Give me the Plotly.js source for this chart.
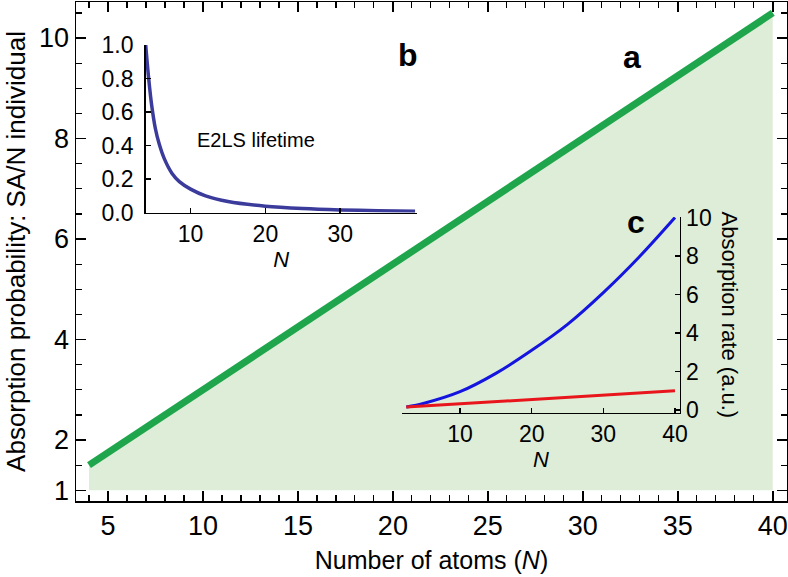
<!DOCTYPE html>
<html>
<head>
<meta charset="utf-8">
<script src="https://cdn.plot.ly/plotly-3.0.1.min.js"></script>
<style>
  html, body { margin: 0; padding: 0; background: #fff; }
  #chart { width: 788px; height: 577px; }
</style>
</head>
<body>
<div id="chart"></div>
<script>
// panel a: absorption probability per atom
const atomsN = [4, 40];
const probSA = [1.5, 10.5];
const fillBase = [1, 1];

// panel b: E2LS lifetime
const lifeN = [4, 4.4, 4.8, 5.3, 5.8, 6.5, 7.5, 8.5, 10, 12, 15, 20, 25, 30, 35, 40];
const lifeVal = [1.0, 0.8, 0.64, 0.5, 0.41, 0.32, 0.235, 0.185, 0.14, 0.1, 0.066, 0.038, 0.024, 0.016, 0.011, 0.008];

// panel c: absorption rate
const rateN = [2.5, 5, 10, 15, 20, 25, 30, 35, 40];
const rateCollective = [0.15, 0.35, 0.95, 1.9, 3.1, 4.45, 6.1, 7.95, 10.0];
const rateIndN = [2.5, 40];
const rateIndividual = [0.15, 1.0];

const FONT = 'Liberation Sans, Arial, Helvetica, sans-serif';
const GREEN = '#1fa64c';

const traces = [
  { x: atomsN, y: fillBase, mode: 'lines', line: { width: 0 }, hoverinfo: 'skip', showlegend: false },
  { x: atomsN, y: probSA, mode: 'lines', fill: 'tonexty', fillcolor: '#deedd7',
    line: { color: GREEN, width: 7 }, showlegend: false },
  { x: lifeN, y: lifeVal, xaxis: 'x2', yaxis: 'y2', mode: 'lines',
    line: { color: '#3b3b9c', width: 3.5, shape: 'spline', smoothing: 0.8 }, showlegend: false },
  { x: rateN, y: rateCollective, xaxis: 'x3', yaxis: 'y3', mode: 'lines',
    line: { color: '#1515e0', width: 3, shape: 'spline' }, showlegend: false },
  { x: rateIndN, y: rateIndividual, xaxis: 'x3', yaxis: 'y3', mode: 'lines',
    line: { color: '#e8161c', width: 3 }, showlegend: false }
];

const insetAxis = {
  showline: true, linecolor: '#000', linewidth: 1.5,
  ticks: 'inside', ticklen: 5, tickwidth: 1.5, tickcolor: '#000',
  showgrid: false, zeroline: false,
  tickfont: { size: 23, color: '#000' }
};

const layout = {
  width: 788, height: 577,
  margin: { l: 76, r: 1, t: 2, b: 76 },
  paper_bgcolor: '#fff', plot_bgcolor: 'rgba(0,0,0,0)',
  font: { family: FONT, color: '#000' },
  showlegend: false,
  xaxis: {
    range: [3.316, 40.75], tick0: 0, dtick: 5,
    showline: true, mirror: 'ticks', linecolor: '#000', linewidth: 1.5,
    ticks: 'inside', ticklen: 10, tickwidth: 1.5, tickcolor: '#000',
    minor: { ticks: 'inside', dtick: 1, ticklen: 6, tickwidth: 1.2, tickcolor: '#000' },
    showgrid: false, zeroline: false,
    tickfont: { size: 27 },
    title: { text: 'Number of atoms (<i>N</i>)', font: { size: 25 }, standoff: 11 }
  },
  yaxis: {
    range: [0.787, 10.717], tickvals: [1, 2, 4, 6, 8, 10],
    showline: true, mirror: 'ticks', linecolor: '#000', linewidth: 1.5,
    ticks: 'inside', ticklen: 10, tickwidth: 1.5, tickcolor: '#000',
    minor: { ticks: 'inside', tick0: 0, dtick: 0.5, ticklen: 6, tickwidth: 1.2, tickcolor: '#000' },
    showgrid: false, zeroline: false,
    tickfont: { size: 27 },
    title: { text: 'Absorption probability: SA/N individual', font: { size: 26 }, standoff: 6 }
  },
  xaxis2: {
    ...insetAxis, anchor: 'y2', domain: [0.098, 0.479], range: [4, 40.2],
    tickvals: [10, 20, 30],
    title: { text: '<i>N</i>', font: { size: 22 }, standoff: 5 }
  },
  yaxis2: {
    ...insetAxis, anchor: 'x2', domain: [0.578, 0.914], range: [0, 1],
    dtick: 0.2, tickformat: '.1f', ticklabelstandoff: 6
  },
  xaxis3: {
    ...insetAxis, anchor: 'y3', domain: [0.4585, 0.8495], range: [1.9, 40.7],
    tickvals: [10, 20, 30, 40],
    title: { text: '<i>N</i>', font: { size: 22 }, standoff: 6 }
  },
  yaxis3: {
    ...insetAxis, anchor: 'x3', side: 'right', domain: [0.177, 0.569], range: [-0.14, 10.02],
    dtick: 2
  },
  annotations: [
    { text: '<b>a</b>', x: 32.6, y: 9.63, xref: 'x', yref: 'y', showarrow: false, font: { size: 32 } },
    { text: '<b>b</b>', x: 20.8, y: 9.67, xref: 'x', yref: 'y', showarrow: false, font: { size: 32 } },
    { text: '<b>c</b>', x: 32.8, y: 6.34, xref: 'x', yref: 'y', showarrow: false, font: { size: 32 } },
    { text: 'E2LS lifetime', x: 18.8, y: 0.43, xref: 'x2', yref: 'y2', showarrow: false, font: { size: 20 } },
    { text: 'Absorption rate (a.u.)', xref: 'paper', yref: 'paper',
      showarrow: false, textangle: 90, font: { size: 22 } }
  ]
};

// place the rotated inset title in paper units from its pixel centre
layout.annotations[4].x = (744 - 76) / 711;
layout.annotations[4].y = (501 - 315) / 499;

Plotly.newPlot('chart', traces, layout, { staticPlot: true, displayModeBar: false });
</script>
</body>
</html>
